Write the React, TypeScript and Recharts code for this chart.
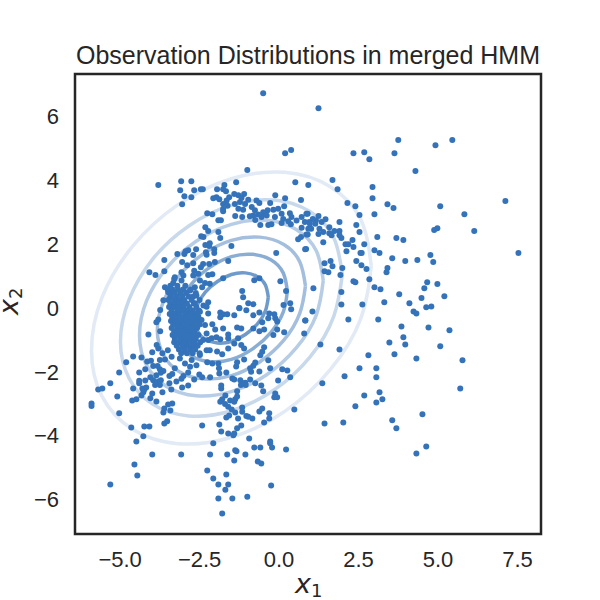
import React from 'react';
import { ScatterChart, Scatter, XAxis, YAxis, ReferenceArea } from 'recharts';

type Pair = [number, number];

// values, [x1, x2]
const rightLowerPoints: Pair[] = [
  [1.96, 0.11], [2.62, 0.11], [3.31, 0.18], [4.1, 0.15], [4.79, 0.05], [4.63, 0.02], [4.23, -0.11], [4.32, -0.17],
  [1.05, -0.11], [0.83, -0.39], [2.18, -0.36], [3.12, -0.36], [3.85, -0.58], [4.7, -0.61], [5.36, -0.7], [3.91, -0.92],
  [3.47, -1.08], [3.97, -1.14], [5.07, -1.2], [1.3, -1.14], [1.9, -1.3], [2.81, -1.48], [3.63, -1.45], [4.32, -1.58],
  [5.77, -1.64], [2.53, -1.89], [3.06, -1.89], [2.06, -2.14], [3.06, -2.17], [1.36, -2.36], [3.16, -2.64], [5.7, -2.52],
  [2.68, -2.74], [3.25, -2.86], [3.06, -2.96], [2.4, -3.08], [4.51, -3.33], [3.56, -3.52], [3.69, -3.77], [1.43, -3.62],
  [2.02, -3.59], [4.63, -4.34], [4.32, -4.56],
];

const rightUpperPoints: Pair[] = [
  [1.24, 6.26], [3.75, 5.26], [5.45, 5.26], [4.92, 5.1], [2.34, 4.85], [2.68, 4.88], [3.63, 4.85], [2.84, 4.66],
  [4.29, 4.29], [1.68, 4.01], [0.92, 3.85], [1.84, 3.72], [2.94, 3.79], [2.94, 3.44], [2.15, 3.29], [2.4, 3.19],
  [3.41, 3.25], [3.6, 3.13], [5.07, 3.19], [7.12, 3.35], [2.53, 2.91], [3.0, 2.94], [5.83, 2.94], [1.9, 2.69],
  [1.46, 2.78], [1.24, 2.88], [2.43, 2.6], [4.98, 2.5], [4.88, 2.44], [6.14, 2.41], [2.53, 2.38], [1.58, 2.53],
  [3.09, 2.22], [3.69, 2.19], [3.91, 2.13], [2.31, 2.13], [1.96, 2.19], [1.9, 2.41], [1.74, 2.41], [1.58, 2.34],
  [1.65, 2.28], [1.9, 2.28], [1.24, 2.32], [1.39, 2.38], [1.39, 2.06], [2.09, 2.0], [2.18, 2.0], [2.68, 2.0],
  [2.34, 1.91], [2.12, 1.78], [3.0, 1.81], [3.16, 1.72], [2.56, 1.72], [2.6, 1.72], [7.53, 1.72], [4.76, 1.66],
  [3.56, 1.56], [3.97, 1.47], [4.35, 1.5], [4.85, 1.44], [2.43, 1.47], [1.62, 1.47], [1.43, 1.4], [1.68, 1.31],
  [2.59, 1.34], [2.75, 1.22], [1.99, 1.25], [3.41, 1.25], [3.38, 1.12], [1.43, 1.15], [1.55, 1.12], [1.93, 1.03],
  [2.84, 0.9], [2.34, 0.84], [2.4, 0.81], [4.66, 0.81], [4.98, 0.75], [4.57, 0.62], [3.0, 0.65], [3.19, 0.59],
  [1.08, 0.62], [1.96, 0.5], [3.78, 0.43], [5.2, 0.37], [4.48, 0.31], [0.9, 2.95], [1.06, 2.79], [0.95, 2.69],
  [1.16, 2.74], [1.01, 2.48], [1.14, 2.64], [1.27, 2.48], [1.34, 2.69], [0.9, 2.3], [0.85, 1.85],
];

const leftUpperPoints: Pair[] = [
  [-0.5, 6.73], [0.19, 4.85], [0.38, 4.95], [-1.0, 4.32], [-3.8, 3.85], [-3.08, 3.97], [-2.76, 3.97], [-1.35, 3.94],
  [0.51, 3.94], [-3.11, 3.69], [-2.67, 3.69], [-2.46, 3.72], [-2.4, 3.72], [-1.95, 3.72], [-1.72, 3.85], [-1.76, 3.72],
  [-1.67, 3.66], [-2.98, 3.5], [-2.76, 3.47], [-3.05, 3.25], [-2.07, 3.44], [-1.97, 3.47], [-1.88, 3.41], [-1.57, 3.47],
  [-1.65, 3.37], [-1.76, 3.26], [-1.62, 3.2], [-1.76, 3.1], [-1.76, 3.03], [-1.41, 3.57], [-1.28, 3.53], [-1.1, 3.57],
  [-1.18, 3.45], [-0.97, 3.39], [-1.39, 3.26], [-1.23, 3.32], [-1.07, 3.26], [-1.28, 3.11], [-1.13, 3.08], [-1.38, 2.88],
  [-1.16, 2.85], [-0.71, 3.37], [-0.62, 3.29], [-0.86, 3.16], [-0.76, 3.06], [-0.92, 2.87], [-0.75, 2.76], [-0.81, 2.9],
  [-0.28, 3.29], [-0.12, 3.53], [0.19, 3.44], [0.69, 3.38], [0.16, 3.19], [-0.03, 3.11], [-0.18, 3.08], [-0.36, 3.06],
  [-0.5, 3.0], [-0.66, 2.93], [-0.55, 2.85], [-0.39, 2.9], [-0.59, 2.6], [-0.34, 2.6], [-0.24, 2.62], [-0.13, 2.85],
  [0.08, 2.95], [0.34, 2.97], [0.39, 2.85], [0.13, 2.79], [0.29, 2.72], [0.08, 2.66], [0.37, 2.62], [0.55, 2.74],
  [0.71, 2.85], [0.86, 2.95], [0.81, 2.69], [0.71, 2.51], [0.86, 2.3], [0.69, 2.22], [0.6, 2.15], [0.82, 1.84],
  [0.97, 2.64], [0.92, 2.48], [-2.26, 2.97], [-2.1, 2.94], [-1.91, 2.75], [-1.83, 2.75], [-2.32, 2.53], [-2.23, 2.41],
  [-1.91, 2.38], [-2.45, 2.25], [-2.38, 2.22], [-1.85, 2.19], [-2.18, 2.03], [-2.32, 1.97], [-2.2, 1.94], [-1.5, 1.94],
  [-2.61, 1.84], [-2.04, 1.84], [-2.86, 1.81], [-2.94, 1.78], [-3.2, 1.69], [-2.98, 1.69], [-2.7, 1.66], [-2.3, 1.75],
  [-2.28, 1.67], [-2.04, 1.72], [-0.09, 1.72], [-3.61, 1.5], [-3.05, 1.44], [-1.6, 1.47], [-2.02, 1.44], [-2.2, 1.38],
  [-2.39, 1.38], [-2.7, 1.4], [-2.89, 1.34], [-2.46, 1.28], [-4.08, 1.12], [-3.89, 1.03], [-3.61, 1.15], [-3.07, 1.12],
  [-2.67, 1.17], [-2.7, 1.02], [-2.54, 1.07], [-2.23, 1.03], [-2.1, 1.06], [-3.01, 1.02], [-3.3, 0.91], [-3.33, 0.78],
  [-3.07, 0.86], [-2.49, 0.86], [-2.33, 0.78], [-2.18, 0.76], [-1.76, 0.93], [-2.42, 0.65], [-0.78, 0.87], [-0.62, 0.93],
  [0.04, 0.84], [0.22, 0.53], [-1.16, 0.53], [-1.13, 0.34], [-0.97, 0.15], [-0.81, 0.12], [-1.25, 0.0], [0.14, 0.09],
  [0.35, 0.15], [-3.64, 0.24], [-2.23, 0.18], [-2.65, 0.65], [-2.8, 0.55], [-2.6, 0.39], [-2.38, 0.08], [-3.28, 0.96],
  [-3.59, 0.65], [-3.49, 0.5], [-3.43, 0.32],
];

const leftLowerPoints: Pair[] = [
  [-5.9, -2.99], [-5.9, -3.07], [-5.69, -2.55], [-5.56, -2.52], [-5.31, -2.36], [-5.09, -2.77], [-5.03, -3.3], [-5.03, -2.02],
  [-4.81, -1.7], [-4.59, -1.52], [-4.33, -1.55], [-4.59, -2.52], [-4.62, -2.9], [-4.49, -2.86], [-4.65, -3.74], [-4.24, -3.71],
  [-4.08, -3.71], [-4.27, -4.02], [-4.49, -4.18], [-3.99, -4.59], [-3.08, -4.59], [-4.55, -4.9], [-4.46, -5.25], [-5.31, -5.53],
  [-2.42, -3.68], [-2.17, -4.59], [-2.07, -4.24], [-1.88, -3.65], [-1.82, -3.87], [-1.6, -3.93], [-1.44, -3.99], [-1.41, -3.93],
  [-1.32, -3.77], [-1.19, -3.68], [-2.26, -5.09], [-2.07, -5.34], [-1.91, -5.53], [-1.66, -5.22], [-1.6, -5.53], [-1.69, -5.69],
  [-1.91, -5.97], [-1.47, -5.97], [-1.0, -5.91], [-0.25, -5.56], [-1.79, -6.44], [-1.63, -4.59], [-1.38, -4.46], [-1.34, -4.49],
  [-1.41, -4.78], [-1.06, -4.59], [-0.67, -4.81], [-0.56, -4.87], [-0.94, -4.09], [-0.78, -4.37], [-0.59, -4.37], [-0.28, -4.18],
  [-0.28, -4.24], [-0.22, -4.37], [0.22, -4.43], [0.48, -3.18], [-0.47, -3.59], [-0.31, -3.3], [-0.31, -3.46], [-0.62, -3.24],
  [-0.53, -3.15], [-3.61, -3.62], [-3.52, -3.55], [-3.64, -3.27], [-3.61, -3.15], [-3.42, -3.21], [-3.49, -3.02], [-3.36, -2.99],
  [-3.86, -2.93], [-4.05, -2.83], [-4.33, -2.74], [-4.27, -2.64], [-4.24, -2.55], [-4.18, -2.49], [-4.3, -2.52], [-4.4, -2.36],
  [-4.4, -2.28], [-3.99, -2.68], [-3.67, -2.64], [-3.39, -2.55], [-3.05, -2.49], [-2.86, -2.43], [-3.45, -2.36], [-3.23, -2.3],
  [-4.21, -2.27], [-4.05, -2.17], [-3.96, -2.26], [-3.8, -2.31], [-3.72, -2.26], [-3.9, -2.41], [-3.75, -2.41], [-4.4, -2.02],
  [-4.21, -1.92], [-3.86, -2.11], [-4.15, -1.68], [-4.03, -1.65], [-3.96, -1.82], [-3.82, -1.82], [-3.75, -1.92], [-3.64, -1.97],
  [-3.72, -2.03], [-3.99, -1.39], [-4.11, -0.83], [-3.85, -1.16], [-3.74, -0.73], [-3.86, -0.45], [-3.8, -0.36], [-3.74, -0.06],
  [-3.45, -2.13], [-3.36, -2.07], [-3.28, -1.89], [-3.01, -2.13], [-3.07, -2.22], [-2.86, -2.02], [-2.67, -2.24], [-2.51, -2.08],
  [-2.42, -2.17], [-2.17, -2.17], [-1.88, -2.05], [-1.66, -2.02], [-1.47, -2.21], [-1.41, -2.24], [-1.22, -2.26], [-0.91, -2.24],
  [-0.75, -2.36], [-0.56, -2.43], [-0.5, -2.61], [-1.82, -2.43], [-1.82, -2.52], [-1.32, -2.61], [-1.2, -2.41], [-1.13, -2.36],
  [-1.05, -2.41], [-1.06, -2.34], [-0.03, -2.27], [0.35, -2.17], [-0.12, -2.68], [-0.15, -2.8], [-0.06, -2.8], [-1.69, -2.74],
  [-1.79, -2.86], [-1.85, -2.94], [-1.32, -2.77], [-1.38, -2.86], [-1.54, -2.9], [-1.41, -2.94], [-1.7, -3.01], [-1.6, -3.09],
  [-1.49, -3.18], [-1.16, -3.12], [-1.16, -3.25], [-1.38, -3.27], [-1.57, -3.37], [-1.66, -3.43], [-1.29, -3.46], [-1.03, -3.38],
  [-0.84, -3.46], [-0.97, -3.41], [-0.62, -1.99], [-0.88, -2.0], [-0.91, -1.89], [-0.81, -1.81], [-0.75, -1.71], [-0.28, -1.89],
  [-0.34, -1.64], [0.1, -1.92], [0.26, -1.96], [-0.59, -1.48], [-0.53, -1.37], [-0.47, -1.23], [-1.1, -1.61], [-1.32, -1.7],
  [-1.35, -1.83], [-1.91, -1.74], [-1.89, -1.89], [-2.1, -1.74], [-2.26, -1.7], [-1.25, -0.01], [-1.03, -0.07], [-0.81, -0.23],
  [-0.62, -0.14], [-0.31, -0.17], [-0.15, -0.2], [-0.12, -0.32], [-0.06, -0.42], [-0.34, -0.32], [-0.53, -0.45], [-0.81, -0.64],
  [-0.62, -0.73], [-0.47, -0.67], [-0.18, -0.85], [-0.06, -0.67], [0.16, -0.76], [0.38, -0.04], [0.82, -0.39], [0.79, -0.8],
  [-1.41, -0.23], [-1.85, -0.14], [-1.76, -0.2], [-1.63, -0.2], [-1.85, -0.29], [-2.1, -0.51], [-2.01, -0.67], [-1.76, -0.64],
  [-1.32, -0.61], [-1.19, -0.64], [-1.6, -0.83], [-1.97, -0.92], [-1.85, -0.98], [-1.6, -0.95], [-1.29, -0.95], [-1.41, -1.11],
  [-1.19, -1.16], [-1.1, -1.27], [-1.6, -1.27], [-1.79, -1.45], [-1.95, -1.36], [-2.18, -1.32], [-2.23, -1.0], [-2.12, -0.95],
  [-2.23, -0.17], [-3.8, -1.27], [-3.67, -1.42], [-3.5, -1.32], [-3.38, -1.53], [-3.59, -1.61], [-3.75, -1.63], [-3.12, -1.58],
  [-2.96, -1.74], [-2.75, -1.63], [-2.6, -1.79], [-2.8, -1.84], [-2.49, -1.47], [-2.28, -1.32], [-2.39, -1.0], [-2.28, -0.8],
  [-2.44, -0.38], [-2.33, -0.53], [-2.28, 0.04], [-2.54, -0.27], [-2.49, -0.12], [-2.65, 0.15],
];

// the dense clump, too packed to separate dot by dot, so these are estimates
const clumpPoints: Pair[] = [
  [-3.42, 0.7], [-3.2, 0.7], [-2.95, 0.7], [-3.5, 0.58], [-3.35, 0.58], [-3.18, 0.58], [-3.02, 0.58], [-2.78, 0.58],
  [-3.45, 0.47], [-3.28, 0.47], [-3.1, 0.47], [-2.92, 0.47], [-2.62, 0.47], [-3.4, 0.36], [-3.22, 0.36], [-3.05, 0.36],
  [-2.85, 0.36], [-2.7, 0.36], [-3.48, 0.25], [-3.3, 0.25], [-3.14, 0.25], [-2.98, 0.25], [-2.75, 0.25], [-2.5, 0.25],
  [-3.42, 0.14], [-3.25, 0.14], [-3.08, 0.14], [-2.9, 0.14], [-2.68, 0.14], [-3.46, 0.03], [-3.32, 0.03], [-3.16, 0.03],
  [-3.0, 0.03], [-2.82, 0.03], [-2.6, 0.03], [-3.38, -0.08], [-3.2, -0.08], [-3.04, -0.08], [-2.88, -0.08], [-2.72, -0.08],
  [-2.52, -0.08], [-3.44, -0.19], [-3.28, -0.19], [-3.12, -0.19], [-2.95, -0.19], [-2.78, -0.19], [-2.62, -0.19], [-3.36, -0.3],
  [-3.18, -0.3], [-3.02, -0.3], [-2.86, -0.3], [-2.7, -0.3], [-2.55, -0.3], [-3.4, -0.41], [-3.24, -0.41], [-3.08, -0.41],
  [-2.92, -0.41], [-2.76, -0.41], [-2.6, -0.41], [-3.33, -0.52], [-3.16, -0.52], [-3.0, -0.52], [-2.84, -0.52], [-2.68, -0.52],
  [-2.5, -0.52], [-3.38, -0.63], [-3.2, -0.63], [-3.04, -0.63], [-2.9, -0.63], [-2.74, -0.63], [-2.58, -0.63], [-3.3, -0.74],
  [-3.14, -0.74], [-2.98, -0.74], [-2.82, -0.74], [-2.66, -0.74], [-3.35, -0.85], [-3.18, -0.85], [-3.02, -0.85], [-2.86, -0.85],
  [-2.7, -0.85], [-2.54, -0.85], [-3.28, -0.96], [-3.1, -0.96], [-2.94, -0.96], [-2.78, -0.96], [-2.62, -0.96], [-3.3, -1.07],
  [-3.14, -1.07], [-2.98, -1.07], [-2.82, -1.07], [-2.66, -1.07], [-2.48, -1.07], [-3.22, -1.18], [-3.04, -1.18], [-2.88, -1.18],
  [-2.72, -1.18], [-2.56, -1.18], [-3.15, -1.3], [-2.98, -1.3], [-2.8, -1.3], [-2.64, -1.3], [-3.08, -1.42], [-2.9, -1.42],
  [-2.72, -1.42], [-2.5, -1.42],
];

const observationGroups = [rightLowerPoints, rightUpperPoints, leftUpperPoints, leftLowerPoints, clumpPoints];

// density contours traced by eye, inner to outer
const contourA: Pair[] = [
  [-0.34, 0.34], [-0.43, 0.72], [-0.68, 0.98], [-1.06, 1.1], [-1.5, 1.05], [-1.94, 0.83], [-2.32, 0.5], [-2.57, 0.09], [-2.66, -0.34],
  [-2.57, -0.72], [-2.32, -0.98], [-1.94, -1.1], [-1.5, -1.05], [-1.06, -0.83], [-0.68, -0.5], [-0.43, -0.09], [-0.34, 0.34],
];
const contourB: Pair[] = [
  [0.26, 0.52], [0.13, 1.1], [-0.26, 1.51], [-0.83, 1.68], [-1.5, 1.61], [-2.17, 1.28], [-2.74, 0.77], [-3.13, 0.13], [-3.26, -0.52],
  [-3.13, -1.1], [-2.74, -1.51], [-2.17, -1.68], [-1.5, -1.61], [-0.83, -1.28], [-0.26, -0.77], [0.13, -0.13], [0.26, 0.52],
];
const contourC: Pair[] = [
  [0.83, 0.69], [0.65, 1.45], [0.15, 1.99], [-0.61, 2.22], [-1.5, 2.12], [-2.39, 1.69], [-3.15, 1.01], [-3.65, 0.17], [-3.83, -0.69],
  [-3.65, -1.45], [-3.15, -1.99], [-2.39, -2.22], [-1.5, -2.12], [-0.61, -1.69], [0.15, -1.01], [0.65, -0.17], [0.83, 0.69],
];
const contourD: Pair[] = [
  [1.39, 0.86], [1.17, 1.79], [0.54, 2.46], [-0.39, 2.75], [-1.5, 2.62], [-2.61, 2.09], [-3.54, 1.25], [-4.17, 0.22], [-4.39, -0.86],
  [-4.17, -1.79], [-3.54, -2.46], [-2.61, -2.75], [-1.5, -2.62], [-0.39, -2.09], [0.54, -1.25], [1.17, -0.22], [1.39, 0.86],
];
const contourE: Pair[] = [
  [1.99, 1.05], [1.72, 2.2], [0.97, 3.02], [-0.16, 3.38], [-1.5, 3.22], [-2.84, 2.57], [-3.97, 1.54], [-4.72, 0.26], [-4.99, -1.05],
  [-4.72, -2.2], [-3.97, -3.02], [-2.84, -3.38], [-1.5, -3.22], [-0.16, -2.57], [0.97, -1.54], [1.72, -0.26], [1.99, 1.05],
];
const contourF: Pair[] = [
  [2.9, 1.32], [2.57, 2.77], [1.61, 3.8], [0.19, 4.25], [-1.5, 4.05], [-3.19, 3.23], [-4.61, 1.93], [-5.57, 0.33], [-5.9, -1.32],
  [-5.57, -2.77], [-4.61, -3.8], [-3.19, -4.25], [-1.5, -4.05], [0.19, -3.23], [1.61, -1.93], [2.57, -0.33], [2.9, 1.32],
];

const contours = [contourF, contourE, contourD, contourC, contourB, contourA];
const contourColors = ['#e1eaf5', '#c8d9ec', '#b7cde5', '#a3bfdd', '#8aadd4', '#6f9bcb'];

const xTicks = [-5, -2.5, 0, 2.5, 5, 7.5];
const yTicks = [-6, -4, -2, 0, 2, 4, 6];

const toXY = (pairs: Pair[]) => pairs.map(([x, y]) => ({ x, y }));
const withMinus = (s: string) => s.replace('-', '\u2212');

const INK = '#262626';
const DOT = '#3473ba';
const FONT = '"Liberation Sans", Arial, sans-serif';

const Dot = (props: any) => <circle cx={props.cx} cy={props.cy} r={3} fill={DOT} />;
const NoDot = () => null;

export default function App() {
  return (
    <div style={{ position: 'absolute', left: 0, top: 0, width: 600, height: 600, background: '#fff' }}>
      <ScatterChart width={600} height={600} margin={{ top: 74, right: 59, bottom: 0, left: 0 }}>
        <XAxis
          type="number"
          dataKey="x"
          domain={[-6.42, 8.24]}
          ticks={xTicks}
          height={66}
          axisLine={false}
          tickLine={false}
          tickMargin={11}
          tick={{ fill: INK, fontSize: 22, fontFamily: FONT }}
          tickFormatter={(v: number) => withMinus(v.toFixed(1))}
          allowDataOverflow
        />
        <YAxis
          type="number"
          dataKey="y"
          domain={[-7.08, 7.33]}
          ticks={yTicks}
          width={75}
          axisLine={false}
          tickLine={false}
          tickMargin={10}
          tick={{ fill: INK, fontSize: 22, fontFamily: FONT }}
          tickFormatter={(v: number) => withMinus(String(v))}
          allowDataOverflow
        />
        {contours.map((c, i) => (
          <Scatter
            key={i}
            data={toXY(c)}
            line={{ stroke: contourColors[i], strokeWidth: 3.5 }}
            lineJointType="natural"
            shape={NoDot}
            isAnimationActive={false}
          />
        ))}
        {observationGroups.map((g, i) => (
          <Scatter key={i} data={toXY(g)} shape={Dot} isAnimationActive={false} />
        ))}
        <ReferenceArea
          x1={-6.42}
          x2={8.24}
          y1={-7.08}
          y2={7.33}
          fill="none"
          stroke={INK}
          strokeWidth={2.5}
          ifOverflow="visible"
        />
        <text x={308} y={64} textAnchor="middle" fontSize={25} fontFamily={FONT} fill={INK}>
          Observation Distributions in merged HMM
        </text>
        <text x={295} y={593} fontSize={27} fontFamily="DejaVu Sans" fill={INK}>
          <tspan fontStyle="italic">x</tspan>
          <tspan fontSize={18} dy={4}>1</tspan>
        </text>
        <text x={18} y={315} fontSize={27} fontFamily="DejaVu Sans" fill={INK} transform="rotate(-90 18 315)">
          <tspan fontStyle="italic">x</tspan>
          <tspan fontSize={18} dy={4}>2</tspan>
        </text>
      </ScatterChart>
    </div>
  );
}
